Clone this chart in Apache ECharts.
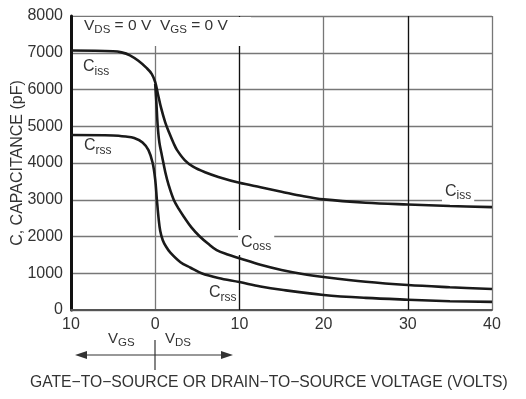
<!DOCTYPE html>
<html>
<head>
<meta charset="utf-8">
<script src="https://cdn.jsdelivr.net/npm/echarts@6/dist/echarts.min.js"></script>
<style>html,body{margin:0;padding:0;background:#fff}#c{width:526px;height:399px}</style>
</head>
<body>
<div id="c"></div>
<script>
// Capacitance vs voltage (x < 0 : VGS side, x > 0 : VDS side)
const xTicks = [-10, 0, 10, 20, 30, 40];
const yTicks = [0, 1000, 2000, 3000, 4000, 5000, 6000, 7000, 8000];

const cissX = [-10, -5, -4, -3, -2, -1, -0.4, 0, 0.3, 0.7, 1.2, 1.7, 2.2, 2.6, 3.5, 4.5, 6, 7.5, 10, 12.5, 15, 17.5, 20, 25, 30, 35, 40];
const cissY = [7060, 7040, 7010, 6930, 6780, 6580, 6420, 6200, 5900, 5500, 5100, 4800, 4530, 4350, 4080, 3900, 3740, 3620, 3460, 3340, 3220, 3100, 3010, 2920, 2870, 2830, 2800];

const cossX = [0, 0.15, 0.3, 0.5, 0.8, 1.2, 1.6, 2.2, 2.8, 3.4, 4.3, 5.3, 6.3, 7.3, 8.6, 10, 12.5, 15, 17.5, 20, 25, 30, 35, 40];
const cossY = [6150, 5600, 5000, 4550, 4200, 3750, 3400, 3000, 2750, 2540, 2250, 2000, 1800, 1630, 1510, 1410, 1230, 1090, 980, 900, 770, 680, 620, 570];

const crssX = [-10, -5, -3.5, -2.5, -1.5, -0.8, -0.3, 0, 0.2, 0.4, 0.6, 0.9, 1.3, 1.8, 3, 4.2, 5.5, 7.5, 10, 12.5, 15, 20, 25, 30, 35, 40];
const crssY = [4760, 4750, 4720, 4680, 4560, 4350, 4000, 3550, 3000, 2500, 2150, 1900, 1720, 1560, 1300, 1150, 1000, 870, 760, 640, 550, 410, 330, 280, 240, 220];

const zip = (xs, ys) => xs.map((x, i) => [x, ys[i]]);
const FONT = '"Liberation Sans", Arial, sans-serif';
const TXT = '#333';

function richOf(big, small) {
  return {
    b: { fontSize: big, lineHeight: big + 5, color: TXT, fontFamily: FONT },
    s: { fontSize: small, lineHeight: small + 1, verticalAlign: 'bottom', color: TXT, fontFamily: FONT }
  };
}

function lbl(text, x, y, bg, big, small) {
  return {
    type: 'text', left: x, top: y, z: 50,
    style: {
      text: text, rich: richOf(big || 16, small || 12), fill: TXT,
      backgroundColor: bg ? '#fff' : null, padding: bg ? [2, 3, 2, 3] : 0
    }
  };
}

const lineStyle = { color: '#1a1a1a', width: 2.6 };
function ser(name, data) {
  return {
    name, type: 'line', data, showSymbol: false, smooth: 0.35,
    lineStyle, z: 5, animation: false
  };
}

const chart = echarts.init(document.getElementById('c'), null, { renderer: 'canvas' });
const option = {
  animation: false,
  backgroundColor: '#fff',
  grid: { left: 71, right: 34, top: 16, bottom: 89, containLabel: false, outerBoundsMode: 'none' },
  xAxis: {
    type: 'value', min: xTicks[0], max: xTicks[xTicks.length - 1], interval: 10,
    axisLine: { show: true, onZero: false, lineStyle: { color: '#555', width: 2 } },
    axisTick: { show: false },
    axisLabel: { formatter: v => String(Math.abs(v)), fontSize: 16, color: TXT, fontFamily: FONT, margin: 7 },
    splitLine: { show: true, lineStyle: { color: '#777', width: 1.3 } }
  },
  yAxis: {
    type: 'value', min: yTicks[0], max: yTicks[yTicks.length - 1], interval: 1000,
    name: 'C, CAPACITANCE (pF)', nameLocation: 'middle', nameGap: 45, nameMoveOverlap: false,
    nameTextStyle: { fontSize: 16, color: TXT, fontFamily: FONT },
    axisLine: { show: true, onZero: false, lineStyle: { color: '#111', width: 3 } },
    axisTick: { show: false },
    axisLabel: { formatter: v => String(v), fontSize: 16, color: TXT, fontFamily: FONT, margin: 8 },
    splitLine: { show: true, lineStyle: { color: '#777', width: 1.3 } }
  },
  series: [
    Object.assign(ser('Ciss', zip(cissX, cissY)), {
      markLine: {
        silent: true, symbol: 'none', label: { show: false },
        lineStyle: { color: '#111', width: 1.2, type: 'solid' },
        data: [{ xAxis: 10 }, { xAxis: 30 }]
      }
    }),
    ser('Coss', zip(cossX, cossY)),
    ser('Crss', zip(crssX, crssY))
  ],
  graphic: [
    { type: 'rect', shape: { x: 73, y: 17, width: 178, height: 29 }, style: { fill: '#fff' }, z: 40 },
    lbl('{b|V}{s|DS}{b| = 0 V}', 84, 18, false, 15.5, 11.5),
    lbl('{b|V}{s|GS}{b| = 0 V}', 160, 18, false, 15.5, 11.5),
    lbl('{b|C}{s|iss}', 83, 59, false),
    lbl('{b|C}{s|rss}', 84, 138, false),
    lbl('{b|C}{s|oss}', 238, 230, true),
    lbl('{b|C}{s|rss}', 209, 285, false),
    lbl('{b|C}{s|iss}', 442, 179, true),
    lbl('{b|V}{s|GS}', 108, 331, false, 15, 11.5),
    lbl('{b|V}{s|DS}', 165, 331, false, 15, 11.5),
    { type: 'line', shape: { x1: 155, y1: 340, x2: 155, y2: 370 }, style: { stroke: '#333', lineWidth: 1.2 } },
    { type: 'line', shape: { x1: 82, y1: 355, x2: 226, y2: 355 }, style: { stroke: '#333', lineWidth: 1.2 } },
    { type: 'polygon', shape: { points: [[75, 355], [87, 351], [87, 359]] }, style: { fill: '#333' } },
    { type: 'polygon', shape: { points: [[233, 355], [221, 351], [221, 359]] }, style: { fill: '#333' } },
    {
      type: 'text', left: 30, top: 375,
      style: { text: 'GATE\u2212TO\u2212SOURCE OR DRAIN\u2212TO\u2212SOURCE VOLTAGE (VOLTS)', fontSize: 15.7, fill: TXT, fontFamily: FONT }
    }
  ]
};
chart.setOption(option);
</script>
</body>
</html>
